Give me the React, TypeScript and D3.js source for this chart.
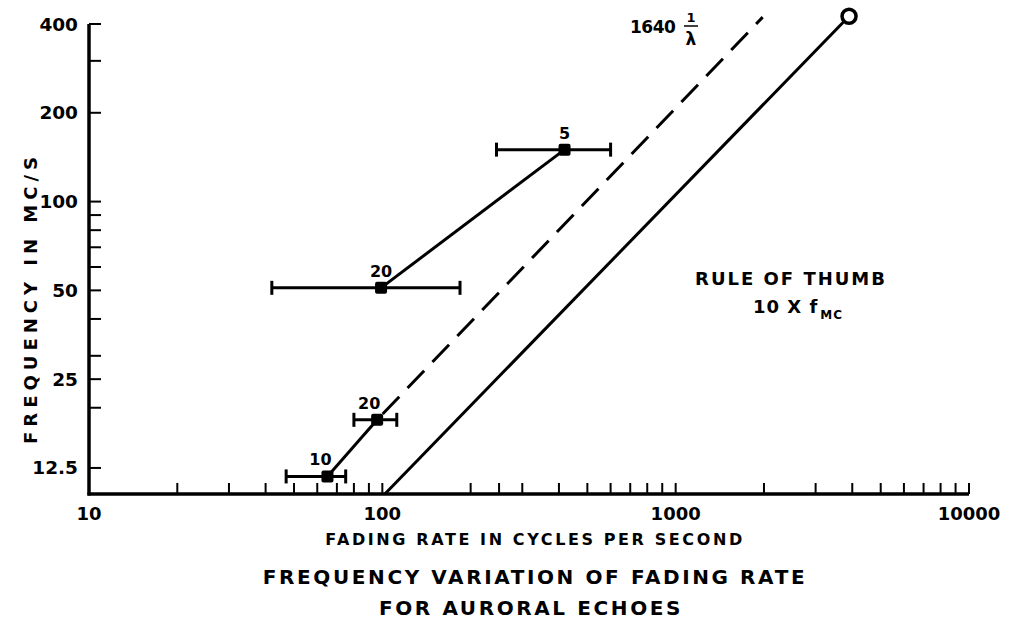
import React from "react";
import * as d3 from "d3";

// ---- data ----
const fadingRate = [418, 99, 96, 65];
const frequency = [150, 51, 18.2, 11.7];
const errLow = [245, 42, 80, 47];
const errHigh = [600, 184, 112, 75];
const pointLabels = ["5", "20", "20", "10"];

// 1640/λ line (solid between lowest two points, then dashed)
const lambdaRate = [96, 1980];
const lambdaFreq = [18.2, 422];
// Rule of thumb 10 x f line
const thumbRate = [102, 3900];
const thumbFreq = [10.2, 425];

const xTickLabels = [10, 100, 1000, 10000];
const xMinorTicks = [20, 30, 40, 50, 60, 70, 80, 90, 100, 200, 250, 300, 400, 500, 600, 700, 800, 900, 1000, 2000, 3000, 4000, 5000, 6000, 7000, 8000, 9000, 10000];
const yTickLabels = [12.5, 25, 50, 100, 200, 400];
const yTicks = [12.5, 20, 25, 30, 40, 50, 60, 70, 80, 90, 100, 200, 300, 400];

const W = 1009;
const H = 619;
const FONT = "'DejaVu Sans', Verdana, sans-serif";

export default function App() {
  const x = d3.scaleLog().domain([10, 10000]).range([89, 969]);
  const y = d3.scaleLog().base(2).domain([10.2, 400]).range([494, 24]);
  const x0 = x.range()[0];
  const y0 = y.range()[0];
  const yTop = y.range()[1];
  const xEnd = x.range()[1];

  const line = d3
    .line<[number, number]>()
    .x((d) => x(d[0]))
    .y((d) => y(d[1]));

  const labelDx = [0, 0, -8, -7];

  return (
    <div style={{ position: "absolute", left: 0, top: 0, width: W, height: H, background: "#fff" }}>
      <svg width={W} height={H} style={{ display: "block" }}>
        <rect width={W} height={H} fill="#fff" />
        {/* axes */}
        <line x1={x0} y1={yTop} x2={x0} y2={y0 + 1.5} stroke="#000" strokeWidth={3.5} />
        <line x1={x0 - 1.5} y1={y0} x2={xEnd} y2={y0} stroke="#000" strokeWidth={3.5} />
        {xMinorTicks.map((t) => (
          <line key={"xt" + t} x1={x(t)} x2={x(t)} y1={y0} y2={y0 - 11} stroke="#000" strokeWidth={2} />
        ))}
        {yTicks.map((t) => (
          <line key={"yt" + t} x1={x0} x2={x0 + 12} y1={y(t)} y2={y(t)} stroke="#000" strokeWidth={2} />
        ))}
        {xTickLabels.map((t) => (
          <text key={"xl" + t} x={x(t)} y={520} textAnchor="middle" fontFamily={FONT} fontWeight="bold" fontSize={18}>
            {t}
          </text>
        ))}
        {yTickLabels.map((t) => (
          <text key={"yl" + t} x={78} y={y(t) + 6.5} textAnchor="end" fontFamily={FONT} fontWeight="bold" fontSize={18.5}>
            {t}
          </text>
        ))}
        {/* axis titles */}
        <text x={535} y={545} textAnchor="middle" fontFamily={FONT} fontWeight="bold" fontSize={16} letterSpacing={2.6}>
          FADING RATE IN CYCLES PER SECOND
        </text>
        <text
          transform={`translate(37,298) rotate(-90)`}
          textAnchor="middle"
          fontFamily={FONT}
          fontWeight="bold"
          fontSize={18}
          letterSpacing={5}
        >
          FREQUENCY IN MC/S
        </text>
        {/* chart title */}
        <text x={535} y={584} textAnchor="middle" fontFamily={FONT} fontWeight="bold" fontSize={20} letterSpacing={2.6}>
          FREQUENCY VARIATION OF FADING RATE
        </text>
        <text x={531} y={615} textAnchor="middle" fontFamily={FONT} fontWeight="bold" fontSize={20} letterSpacing={2.6}>
          FOR AURORAL ECHOES
        </text>

        {/* rule of thumb line */}
        <path
          d={line([[thumbRate[0], thumbFreq[0]], [thumbRate[1], thumbFreq[1]]]) || ""}
          stroke="#000"
          strokeWidth={3}
          fill="none"
        />
        <circle cx={x(thumbRate[1])} cy={y(thumbFreq[1])} r={7} fill="#fff" stroke="#000" strokeWidth={3.5} />

        {/* 1640/λ line */}
        <path
          d={line([[fadingRate[3], frequency[3]], [fadingRate[2], frequency[2]]]) || ""}
          stroke="#000"
          strokeWidth={3}
          fill="none"
        />
        <path
          d={line([[lambdaRate[0], lambdaFreq[0]], [lambdaRate[1], lambdaFreq[1]]]) || ""}
          stroke="#000"
          strokeWidth={3}
          fill="none"
          strokeDasharray="24 12"
          strokeDashoffset={-8}
        />
        {/* line between upper two points */}
        <path
          d={line([[fadingRate[1], frequency[1]], [fadingRate[0], frequency[0]]]) || ""}
          stroke="#000"
          strokeWidth={3}
          fill="none"
        />

        {/* error bars and points */}
        {fadingRate.map((r, i) => {
          const cy = y(frequency[i]);
          return (
            <g key={"p" + i}>
              <line x1={x(errLow[i])} x2={x(errHigh[i])} y1={cy} y2={cy} stroke="#000" strokeWidth={3} />
              <line x1={x(errLow[i])} x2={x(errLow[i])} y1={cy - 7} y2={cy + 7} stroke="#000" strokeWidth={3} />
              <line x1={x(errHigh[i])} x2={x(errHigh[i])} y1={cy - 7} y2={cy + 7} stroke="#000" strokeWidth={3} />
              <rect x={x(r) - 6} y={cy - 6} width={12} height={12} rx={2} fill="#000" />
              <text
                x={x(r) + labelDx[i]}
                y={cy - 11}
                textAnchor="middle"
                fontFamily={FONT}
                fontWeight="bold"
                fontSize={16}
              >
                {pointLabels[i]}
              </text>
            </g>
          );
        })}

        {/* annotations */}
        <text x={630} y={33} fontFamily={FONT} fontWeight="bold" fontSize={17} letterSpacing={-0.5}>
          1640
        </text>
        <text x={691} y={22} textAnchor="middle" fontFamily={FONT} fontWeight="bold" fontSize={13}>
          1
        </text>
        <line x1={684} x2={698} y1={26} y2={26} stroke="#000" strokeWidth={1.5} />
        <text x={691} y={45} textAnchor="middle" fontFamily={FONT} fontWeight="bold" fontSize={17}>
          λ
        </text>
        <text x={791} y={285} textAnchor="middle" fontFamily={FONT} fontWeight="bold" fontSize={18} letterSpacing={2}>
          RULE OF THUMB
        </text>
        <text x={753} y={313} fontFamily={FONT} fontWeight="bold" fontSize={18} letterSpacing={1}>
          10 X f
          <tspan fontSize={12} dy={6} dx={2}>
            MC
          </tspan>
        </text>
      </svg>
    </div>
  );
}
